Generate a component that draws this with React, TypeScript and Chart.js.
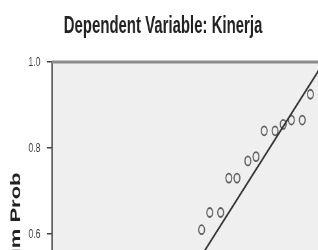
import { useEffect, useRef } from "react";
import { Chart, registerables } from "chart.js";

Chart.register(...registerables);

// Observed vs expected cumulative probabilities (visible part of the P-P plot)
const observedCumProb = [0.55, 0.58, 0.62, 0.65, 0.68, 0.72, 0.75, 0.78, 0.82, 0.85, 0.88, 0.92, 0.95];
const expectedCumProb = [0.61, 0.65, 0.65, 0.73, 0.73, 0.77, 0.78, 0.84, 0.84, 0.855, 0.865, 0.865, 0.925];
// Reference diagonal
const refLineX = [0, 1];
const refLineY = [0, 1];

const chartTitle = "Dependent Variable: Kinerja";
const xTitle = "Observed Cum Prob";
const yTitle = "Expected Cum Prob";

const FAMILY = "'Liberation Sans', Arial, sans-serif";
const SX = 0.65;
const OFFSET_X = 1.5;
const CW = 506;
const CH = 580;

export default function App() {
  const ref = useRef<HTMLCanvasElement>(null);

  useEffect(() => {
    const plotFrame = {
      id: "plotFrame",
      beforeDraw(chart: any) {
        const { ctx, chartArea: a } = chart;
        ctx.save();
        ctx.fillStyle = "#efefef";
        ctx.fillRect(a.left, a.top, a.right - a.left + 40, a.bottom - a.top);
        ctx.restore();
      },
      afterDraw(chart: any) {
        const { ctx, chartArea: a } = chart;
        ctx.save();
        ctx.strokeStyle = "#8c8c8c";
        ctx.lineWidth = 3;
        ctx.beginPath();
        ctx.moveTo(a.left, a.top);
        ctx.lineTo(a.right + 40, a.top);
        ctx.stroke();
        ctx.restore();
      },
    };

    const tickFont = { family: FAMILY, size: 13 };
    const axisTitleFont = { family: FAMILY, size: 22, weight: "bold" as const, lineHeight: 1.2 };

    const chart = new Chart(ref.current!, {
      type: "scatter",
      data: {
        datasets: [
          {
            data: observedCumProb.map((x, i) => ({ x, y: expectedCumProb[i] })),
            showLine: false,
            pointStyle: "circle",
            pointRadius: 4.5,
            pointBorderWidth: 1.8,
            pointBorderColor: "#5e5e5e",
            pointBackgroundColor: "rgba(0,0,0,0)",
            order: 2,
          },
          {
            data: refLineX.map((x, i) => ({ x, y: refLineY[i] })),
            showLine: true,
            pointRadius: 0,
            borderColor: "#333",
            borderWidth: 2.2,
            order: 1,
          },
        ],
      },
      options: {
        responsive: false,
        animation: false,
        devicePixelRatio: 1,
        layout: { padding: { top: 0, left: 0, right: 10.6, bottom: 8 } },
        plugins: {
          legend: { display: false },
          tooltip: { enabled: false },
          title: {
            display: true,
            text: chartTitle,
            color: "#222",
            font: { family: FAMILY, size: 23, weight: "bold", lineHeight: 1.2 },
            padding: { top: 12.5, bottom: 21.9 },
          },
        },
        scales: {
          x: {
            type: "linear",
            min: 0,
            max: 1,
            position: "bottom",
            grid: { display: true, drawOnChartArea: false, drawTicks: true, tickLength: 8, color: "#444", lineWidth: 1.5 },
            border: { display: true, color: "#444", width: 2 },
            ticks: {
              stepSize: 0.2,
              padding: 10,
              align: "inner",
              color: "#333",
              font: tickFont,
              callback: (v: any) => Number(v).toFixed(1),
            },
            title: { display: true, text: xTitle, color: "#222", font: axisTitleFont },
            afterFit(s: any) {
              s.height = 80;
            },
          },
          y: {
            type: "linear",
            min: 0,
            max: 1,
            position: "left",
            grid: { display: true, drawOnChartArea: false, drawTicks: true, tickLength: 8, color: "#444", lineWidth: 1.5 },
            border: { display: true, color: "#444", width: 2 },
            ticks: { stepSize: 0.2, padding: 10, color: "#333", font: tickFont, callback: (v: any) => Number(v).toFixed(1) },
            title: { display: true, text: yTitle, color: "#222", font: axisTitleFont, padding: { top: 9.1, bottom: 4 } },
            afterFit(s: any) {
              s.width = 76.9;
            },
          },
        },
      },
      plugins: [plotFrame],
    });
    return () => chart.destroy();
  }, []);

  return (
    <div
      style={{
        position: "fixed",
        left: 0,
        top: 0,
        width: 318,
        height: 250,
        overflow: "hidden",
        background: "#fff",
      }}
    >
      <div
        style={{
          position: "absolute",
          left: OFFSET_X,
          top: 0,
          width: CW,
          height: CH,
          transform: `scaleX(${SX})`,
          transformOrigin: "0 0",
        }}
      >
        <canvas ref={ref} width={CW} height={CH} style={{ display: "block" }} />
      </div>
    </div>
  );
}
